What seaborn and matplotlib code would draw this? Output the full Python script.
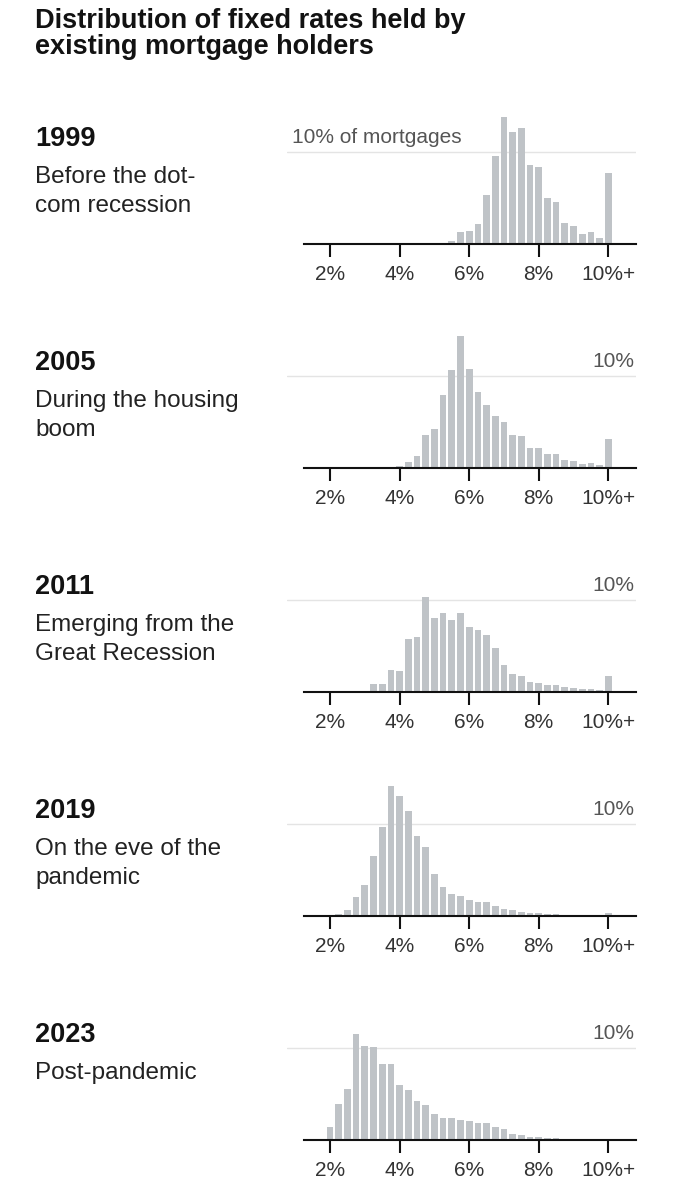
import numpy as np
import pandas as pd
import matplotlib
matplotlib.use('Agg')
import matplotlib.pyplot as plt
import seaborn as sns
from matplotlib import font_manager

# rate bins (percent), last bin is 10%+
rate_bins = [2.0, 2.25, 2.5, 2.75, 3.0, 3.25, 3.5, 3.75, 4.0, 4.25, 4.5, 4.75,
             5.0, 5.25, 5.5, 5.75, 6.0, 6.25, 6.5, 6.75, 7.0, 7.25, 7.5, 7.75,
             8.0, 8.25, 8.5, 8.75, 9.0, 9.25, 9.5, 9.75, 10.0]

share_1999 = [0, 0, 0, 0, 0, 0, 0, 0, 0, 0, 0, 0,
              0.12, 0.12, 0.35, 1.35, 1.45, 2.15, 5.3, 9.6, 13.8, 12.2, 12.7, 8.65,
              8.4, 5.05, 4.55, 2.25, 1.95, 1.05, 1.35, 0.7, 7.75]
share_2005 = [0, 0, 0, 0, 0, 0, 0, 0.12, 0.22, 0.65, 1.35, 3.55,
              4.3, 7.95, 10.7, 14.4, 10.8, 8.3, 6.9, 5.7, 5.0, 3.65, 3.5, 2.2,
              2.2, 1.55, 1.55, 0.85, 0.75, 0.45, 0.55, 0.35, 3.2]
share_2011 = [0, 0, 0, 0, 0.12, 0.85, 0.85, 2.45, 2.3, 5.8, 6.0, 10.35,
              8.1, 8.6, 7.85, 8.6, 7.05, 6.8, 6.25, 4.8, 2.9, 2.0, 1.7, 1.1,
              1.0, 0.72, 0.72, 0.55, 0.45, 0.35, 0.35, 0.25, 1.75]
share_2019 = [0.12, 0.25, 0.6, 2.05, 3.4, 6.5, 9.7, 14.2, 13.1, 11.5, 8.75, 7.5,
              4.6, 3.2, 2.45, 2.2, 1.7, 1.5, 1.5, 1.05, 0.75, 0.6, 0.47, 0.35,
              0.3, 0.25, 0.22, 0.16, 0.15, 0.14, 0.14, 0.14, 0.3]
share_2023 = [1.4, 3.9, 5.6, 11.6, 10.3, 10.1, 8.3, 8.3, 6.0, 5.4, 4.2, 3.8,
              2.8, 2.4, 2.4, 2.2, 2.1, 1.8, 1.9, 1.4, 1.2, 0.7, 0.58, 0.38,
              0.3, 0.25, 0.25, 0.13, 0.12, 0.12, 0.12, 0, 0]

years = ['1999', '2005', '2011', '2019', '2023']
captions = [['Before the dot-', 'com recession'],
            ['During the housing', 'boom'],
            ['Emerging from the', 'Great Recession'],
            ['On the eve of the', 'pandemic'],
            ['Post-pandemic']]
shares = [share_1999, share_2005, share_2011, share_2019, share_2023]

tick_values = [2, 4, 6, 8, 10]
tick_labels = ['2%', '4%', '6%', '8%', '10%+']

df = pd.concat([pd.DataFrame({'year': y, 'rate': rate_bins, 'share': s})
                for y, s in zip(years, shares)], ignore_index=True)

avail = {f.name for f in font_manager.fontManager.ttflist}


def pick(*names):
    for n in names:
        if n in avail:
            return n
    return 'DejaVu Sans'


sns.set_style('white')
body_font = pick('Liberation Sans', 'Roboto', 'DejaVu Sans')
title_font = pick('Liberation Sans Narrow', 'Liberation Sans', 'DejaVu Sans')
title_size = 18.5 if title_font == 'Liberation Sans Narrow' else 19.5
plt.rcParams['font.family'] = [body_font, 'DejaVu Sans']

W, H = 683, 1200
fig = plt.figure(figsize=(W / 100, H / 100), dpi=100)

bar_color = '#bfc3c7'
px_per_pct_y = 9.17
ymax = 15
ax_left, ax_right = 287, 636
baselines = [244, 468, 692, 916, 1140]

fig.text(35 / W, 1 - 28 / H, 'Distribution of fixed rates held by',
         fontsize=title_size, fontweight='bold', family=title_font,
         color='#121212', va='baseline', ha='left')
fig.text(35 / W, 1 - 54 / H, 'existing mortgage holders',
         fontsize=title_size, fontweight='bold', family=title_font,
         color='#121212', va='baseline', ha='left')

for i, (year, base) in enumerate(zip(years, baselines)):
    h = ymax * px_per_pct_y
    ax = fig.add_axes([ax_left / W, 1 - base / H, (ax_right - ax_left) / W, h / H])
    sub = df[df['year'] == year]
    sns.barplot(data=sub, x='rate', y='share', native_scale=True, width=0.77,
                color=bar_color, saturation=1, errorbar=None, ax=ax, zorder=2,
                linewidth=0, edgecolor='none')
    ax.axhline(10, color='#e4e4e4', lw=1, zorder=0)
    ax.set_xlim(0.764, 10.796)
    ax.set_ylim(0, ymax)
    ax.set_xlabel('')
    ax.set_ylabel('')
    ax.set_yticks([])
    ax.set_xticks(tick_values)
    ax.set_xticklabels(tick_labels)
    ax.tick_params(axis='x', length=9, width=1.5, color='#111111', pad=6,
                   labelsize=15, labelcolor='#333333', bottom=True)
    for side in ['top', 'left', 'right']:
        ax.spines[side].set_visible(False)
    ax.spines['bottom'].set_color('#111111')
    ax.spines['bottom'].set_linewidth(1.5)
    ax.spines['bottom'].set_bounds(1.253, 10.796)
    ax.spines['bottom'].set_zorder(3)
    ax.patch.set_alpha(0)

    if i == 0:
        ax.annotate('10% of mortgages', xy=(0.013, 10), xycoords=('axes fraction', 'data'),
                    xytext=(0, 7), textcoords='offset points', ha='left', va='baseline',
                    fontsize=15, color='#555555')
    else:
        ax.annotate('10%', xy=(0.994, 10), xycoords=('axes fraction', 'data'),
                    xytext=(0, 7), textcoords='offset points', ha='right', va='baseline',
                    fontsize=15, color='#555555')

    year_base = base - 98
    fig.text(35 / W, 1 - year_base / H, year, fontsize=19.5, fontweight='bold',
             color='#121212', va='baseline', ha='left')
    for j, line in enumerate(captions[i]):
        fig.text(35 / W, 1 - (year_base + 37 + 29 * j) / H, line, fontsize=17.5,
                 color='#222222', va='baseline', ha='left')

fig.savefig('out.png', dpi=100)
